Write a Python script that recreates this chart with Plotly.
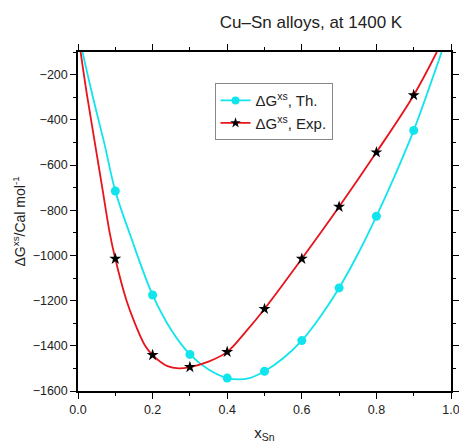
import plotly.graph_objects as go

# measured points (x_Sn, dG_xs in Cal/mol)
x_pts = [0.1, 0.2, 0.3, 0.4, 0.5, 0.6, 0.7, 0.8, 0.9]
th_pts = [-715, -1175, -1438, -1543, -1513, -1377, -1144, -827, -447]
exp_pts = [-1015, -1441, -1494, -1427, -1237, -1015, -785, -544, -291]

# fitted curves
th_cx = [0.012, 0.04, 0.07, 0.1, 0.14, 0.2, 0.25, 0.3, 0.35, 0.4, 0.43, 0.46,
         0.5, 0.55, 0.6, 0.65, 0.7, 0.75, 0.8, 0.85, 0.9, 0.975]
th_cy = [-100, -300, -500, -715, -910, -1175, -1330, -1438, -1505, -1543, -1549, -1543,
         -1513, -1455, -1377, -1270, -1144, -995, -827, -645, -447, -100]
exp_cx = [0.007, 0.025, 0.045, 0.065, 0.085, 0.1, 0.13, 0.15, 0.18, 0.2, 0.24, 0.27,
          0.3, 0.35, 0.4, 0.45, 0.5, 0.6, 0.7, 0.8, 0.9, 0.962]
exp_cy = [-100, -300, -500, -700, -900, -1015, -1200, -1290, -1400, -1441, -1490, -1500,
          -1494, -1470, -1427, -1337, -1237, -1015, -785, -544, -291, -100]

CYAN = '#10e4ec'
RED = '#e8141b'
FONT = 'Arial, Liberation Sans, sans-serif'

fig = go.Figure()

# curves
fig.add_trace(go.Scatter(x=th_cx, y=th_cy, mode='lines', line=dict(color=CYAN, width=1.8, shape='spline'),
                         showlegend=False, hoverinfo='skip'))
fig.add_trace(go.Scatter(x=exp_cx, y=exp_cy, mode='lines', line=dict(color=RED, width=1.8, shape='spline'),
                         showlegend=False, hoverinfo='skip'))
# markers
fig.add_trace(go.Scatter(x=x_pts, y=th_pts, mode='markers', marker=dict(color=CYAN, size=9, symbol='circle'),
                         showlegend=False))
fig.add_trace(go.Scatter(x=x_pts, y=exp_pts, mode='markers',
                         marker=dict(color='black', size=9, symbol='star', line=dict(width=0)),
                         showlegend=False))
# legend entries
fig.add_trace(go.Scatter(x=[None], y=[None], mode='lines+markers', name='ΔG<sup>xs</sup>, Th.',
                         line=dict(color=CYAN, width=1.8), marker=dict(color=CYAN, size=8)))
fig.add_trace(go.Scatter(x=[None], y=[None], mode='lines+markers', name='ΔG<sup>xs</sup>, Exp.',
                         line=dict(color=RED, width=1.8), marker=dict(color='black', size=8, symbol='star')))

fig.update_layout(
    width=459, height=443,
    margin=dict(l=78, r=8, t=52, b=52),
    paper_bgcolor='white', plot_bgcolor='white',
    font=dict(family=FONT, size=12, color='#222'),
    title=dict(text='Cu–Sn alloys, at 1400 K', x=311 / 459, xanchor='center', xref='container',
               y=1 - 22 / 443, yanchor='middle', font=dict(size=17, color='#222'), automargin=False),
    legend=dict(x=0.366, y=0.908, xanchor='left', yanchor='top', bgcolor='white',
                bordercolor='#888', borderwidth=1, font=dict(size=15, color='#222'),
                itemwidth=30),
)

# y axis title placed by hand
fig.add_annotation(text='ΔG<sup>xs</sup>/Cal mol<sup>-1</sup>', textangle=-90,
                   xref='paper', yref='paper', x=(19 - 78) / 373, y=0.5,
                   xanchor='center', yanchor='middle', showarrow=False,
                   font=dict(size=14, color='#222'))

axis_common = dict(showline=True, linecolor='black', linewidth=1.5, mirror='allticks',
                   ticks='outside', ticklen=6, tickwidth=1.2, tickcolor='black',
                   showgrid=False, zeroline=False, automargin=False, ticklabeloverflow='allow',
                   tickfont=dict(size=12.5, color='#222'))

fig.update_xaxes(range=[0, 1], dtick=0.2, tickformat='.1f',
                 minor=dict(ticks='outside', dtick=0.1, ticklen=3, tickcolor='black', tickwidth=1),
                 title=dict(text='x<sub>Sn</sub>', font=dict(size=15, color='#222'), standoff=29),
                 **axis_common)
fig.update_yaxes(range=[-1600, -100], tick0=-1600, dtick=200,
                 minor=dict(ticks='outside', dtick=100, ticklen=3, tickcolor='black', tickwidth=1),
                 **axis_common)

fig.write_html('out.html', config={'displayModeBar': False},
               post_script="document.body.style.margin='0';")
